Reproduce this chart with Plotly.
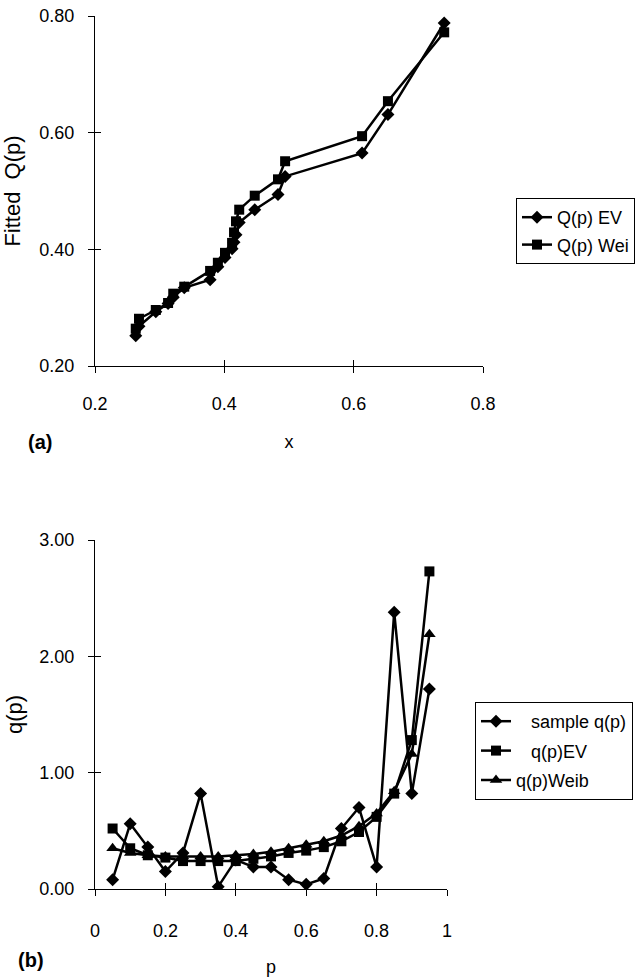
import plotly.graph_objects as go

# (a) fitted quantiles against sample values
x_sample = [0.263, 0.268, 0.294, 0.313, 0.321, 0.338, 0.378, 0.390, 0.401, 0.412,
            0.415, 0.418, 0.423, 0.447, 0.483, 0.494, 0.613, 0.653, 0.740]
Q_ev = [0.252, 0.268, 0.293, 0.307, 0.318, 0.334, 0.348, 0.370, 0.386, 0.401,
        0.412, 0.425, 0.446, 0.468, 0.494, 0.525, 0.565, 0.631, 0.788]
Q_wei = [0.264, 0.281, 0.296, 0.308, 0.324, 0.336, 0.363, 0.377, 0.394, 0.411,
         0.429, 0.448, 0.468, 0.492, 0.520, 0.551, 0.594, 0.654, 0.772]

# (b) quantile density q(p)
p = [0.05, 0.10, 0.15, 0.20, 0.25, 0.30, 0.35, 0.40, 0.45, 0.50,
     0.55, 0.60, 0.65, 0.70, 0.75, 0.80, 0.85, 0.90, 0.95]
q_sample = [0.08, 0.56, 0.36, 0.15, 0.31, 0.82, 0.02, 0.25, 0.19, 0.19,
            0.08, 0.04, 0.09, 0.52, 0.70, 0.19, 2.38, 0.82, 1.72]
q_ev = [0.52, 0.35, 0.29, 0.27, 0.24, 0.24, 0.24, 0.24, 0.26, 0.28,
        0.31, 0.33, 0.36, 0.41, 0.49, 0.62, 0.82, 1.28, 2.73]
q_weib = [0.35, 0.31, 0.29, 0.28, 0.28, 0.28, 0.28, 0.29, 0.30, 0.32,
          0.35, 0.38, 0.41, 0.46, 0.54, 0.65, 0.84, 1.16, 2.19]

FONT = "Liberation Sans, Arial, sans-serif"
W, H = 638, 977
NB = "\u00a0"

def px_x(v):
    return v / W

def px_y(v):
    return 1 - v / H

line = dict(color="black", width=2.5)

fig = go.Figure()
fig.add_trace(go.Scatter(x=x_sample, y=Q_ev, name="Q(p) EV", mode="lines+markers",
                         line=line, marker=dict(symbol="diamond", size=10, color="black"),
                         xaxis="x", yaxis="y", legend="legend", legendgroup="a1"))
fig.add_trace(go.Scatter(x=x_sample, y=Q_wei, name="Q(p) Wei", mode="lines+markers",
                         line=line, marker=dict(symbol="square", size=10, color="black"),
                         xaxis="x", yaxis="y", legend="legend", legendgroup="a2"))

fig.add_trace(go.Scatter(x=p, y=q_sample, name=NB * 3 + "sample q(p)", mode="lines+markers",
                         line=line, marker=dict(symbol="diamond", size=10, color="black"),
                         xaxis="x2", yaxis="y2", legend="legend2", legendgroup="b1"))
fig.add_trace(go.Scatter(x=p, y=q_ev, name=NB * 3 + "q(p)EV", mode="lines+markers",
                         line=line, marker=dict(symbol="square", size=10, color="black"),
                         xaxis="x2", yaxis="y2", legend="legend2", legendgroup="b2"))
fig.add_trace(go.Scatter(x=p, y=q_weib, name="q(p)Weib", mode="lines+markers",
                         line=line, marker=dict(symbol="triangle-up", size=11, color="black"),
                         xaxis="x2", yaxis="y2", legend="legend2", legendgroup="b3"))

# empty traces so the inner-tick overlay axes get drawn
fig.add_trace(go.Scatter(x=[], y=[], xaxis="x3", yaxis="y3", showlegend=False, hoverinfo="skip"))
fig.add_trace(go.Scatter(x=[], y=[], xaxis="x4", yaxis="y4", showlegend=False, hoverinfo="skip"))

top_x = [px_x(95), px_x(483)]
top_y = [px_y(366), px_y(16)]
bot_x = [px_x(95), px_x(447)]
bot_y = [px_y(889), px_y(540)]

tickfont = dict(family=FONT, size=18, color="black")
base = dict(showgrid=False, zeroline=False, showline=True, linecolor="black", linewidth=1,
            ticks="outside", ticklen=6, tickcolor="black", tickwidth=1, tickfont=tickfont)
inner = dict(showgrid=False, zeroline=False, showline=False, ticks="inside", ticklen=6,
             tickcolor="black", tickwidth=1, showticklabels=False)
ytitle_font = dict(family=FONT, size=22, color="black")

fig.update_layout(
    width=W, height=H, margin=dict(l=0, r=0, t=0, b=0, autoexpand=False),
    paper_bgcolor="white", plot_bgcolor="white", showlegend=True,
    font=dict(family=FONT, size=18, color="black"),
    xaxis=dict(**base, domain=top_x, anchor="y", range=[0.2, 0.8], dtick=0.2, tick0=0.2,
               tickformat=".1f", ticklabelstandoff=15,
               title=dict(text="x", font=dict(family=FONT, size=18), standoff=22)),
    yaxis=dict(**base, domain=top_y, anchor="x", range=[0.2, 0.8], dtick=0.2, tick0=0.2,
               tickformat=".2f", ticklabelstandoff=10,
               title=dict(text="Fitted" + NB + " Q(p)", font=ytitle_font, standoff=14)),
    xaxis3=dict(**inner, overlaying="x", anchor="y3", range=[0.2, 0.8], dtick=0.2, tick0=0.2),
    yaxis3=dict(**inner, overlaying="y", anchor="x3", range=[0.2, 0.8], dtick=0.2, tick0=0.2),
    xaxis2=dict(**base, domain=bot_x, anchor="y2", range=[0, 1], dtick=0.2, tick0=0,
                ticklabelstandoff=19,
                title=dict(text="p", font=dict(family=FONT, size=18), standoff=21)),
    yaxis2=dict(**base, domain=bot_y, anchor="x2", range=[0, 3], dtick=1, tick0=0,
                tickformat=".2f", ticklabelstandoff=10,
                title=dict(text="q(p)", font=ytitle_font, standoff=10)),
    xaxis4=dict(**inner, overlaying="x2", anchor="y4", range=[0, 1], dtick=0.2, tick0=0),
    yaxis4=dict(**inner, overlaying="y2", anchor="x4", range=[0, 3], dtick=1, tick0=0),
    legend=dict(x=px_x(516), y=px_y(198), xanchor="left", yanchor="top",
                bordercolor="black", borderwidth=1, bgcolor="white",
                font=dict(family=FONT, size=18), tracegroupgap=1, traceorder="grouped"),
    legend2=dict(x=px_x(475), y=px_y(702), xanchor="left", yanchor="top",
                 bordercolor="black", borderwidth=1, bgcolor="white",
                 font=dict(family=FONT, size=18), tracegroupgap=3, traceorder="grouped"),
    annotations=[
        dict(text="<b>(a)</b>", x=px_x(26), y=px_y(442), xref="paper", yref="paper",
             xanchor="left", yanchor="middle", showarrow=False,
             font=dict(family=FONT, size=20, color="black")),
        dict(text="<b>(b)</b>", x=px_x(16), y=px_y(960), xref="paper", yref="paper",
             xanchor="left", yanchor="middle", showarrow=False,
             font=dict(family=FONT, size=20, color="black")),
    ],
)

fig.write_html("out.html")
